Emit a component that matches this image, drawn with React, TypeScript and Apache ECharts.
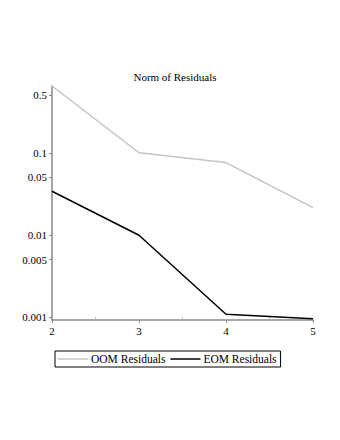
import React, { useEffect, useRef } from "react";
import * as echarts from "echarts";

const xValues = [2, 3, 4, 5];
const oomResiduals = [0.65, 0.1, 0.076, 0.0215];
const eomResiduals = [0.034, 0.0099, 0.00108, 0.00095];
const yTickValues = [0.001, 0.005, 0.01, 0.05, 0.1, 0.5];
const seriesNames = ["OOM Residuals", "EOM Residuals"];
const titleText = "Norm of Residuals";

export default function App() {
  const ref = useRef<HTMLDivElement>(null);
  useEffect(() => {
    if (!ref.current) return;
    const chart = echarts.init(ref.current, undefined, { renderer: "svg" });
    const font = "Liberation Serif";
    chart.setOption({
      animation: false,
      backgroundColor: "#ffffff",
      title: {
        text: titleText,
        left: 170,
        textAlign: "center",
        top: 66,
        textStyle: { fontFamily: font, fontSize: 11, fontWeight: "normal", color: "#000" },
      },
      grid: { left: 52, right: 27, top: 86, bottom: 120, containLabel: false },
      legend: {
        left: 55,
        top: 351,
        data: seriesNames,
        icon: "rect",
        itemWidth: 30,
        itemHeight: 1.5,
        itemGap: 5,
        padding: [2, 4, 2, 3],
        borderColor: "#000",
        borderWidth: 1,
        textStyle: { fontFamily: font, fontSize: 11.5, color: "#000", padding: [0, 0, 0, -2] },
      },
      xAxis: {
        type: "value",
        min: 2,
        max: 5,
        interval: 1,
        axisLine: { lineStyle: { color: "#888", width: 1.5 } },
        axisTick: { show: true, length: 3, lineStyle: { color: "#888" } },
        minorTick: { show: true, splitNumber: 2, length: -3, lineStyle: { color: "#bbb" } },
        splitLine: { show: false },
        axisLabel: { fontFamily: font, fontSize: 11, color: "#000", margin: 5 },
      },
      yAxis: {
        type: "log",
        logBase: 10,
        min: 0.00092,
        max: 0.65,
        axisLine: { show: true, lineStyle: { color: "#888", width: 1.5 } },
        axisTick: { show: true, length: 3, lineStyle: { color: "#888" }, customValues: yTickValues },
        splitLine: { show: false },
        axisLabel: {
          fontFamily: font,
          fontSize: 11,
          color: "#000",
          margin: 5,
          customValues: yTickValues,
          formatter: (v: number) => String(v),
        },
      },
      series: [
        {
          name: seriesNames[0],
          type: "line",
          data: xValues.map((x, i) => [x, oomResiduals[i]]),
          showSymbol: false,
          lineStyle: { color: "#c4c4c4", width: 1.5 },
          itemStyle: { color: "#c4c4c4" },
        },
        {
          name: seriesNames[1],
          type: "line",
          data: xValues.map((x, i) => [x, eomResiduals[i]]),
          showSymbol: false,
          lineStyle: { color: "#000", width: 1.5 },
          itemStyle: { color: "#000" },
        },
      ],
    });
    return () => chart.dispose();
  }, []);
  return <div ref={ref} style={{ width: 340, height: 440, margin: -8 }} />;
}
